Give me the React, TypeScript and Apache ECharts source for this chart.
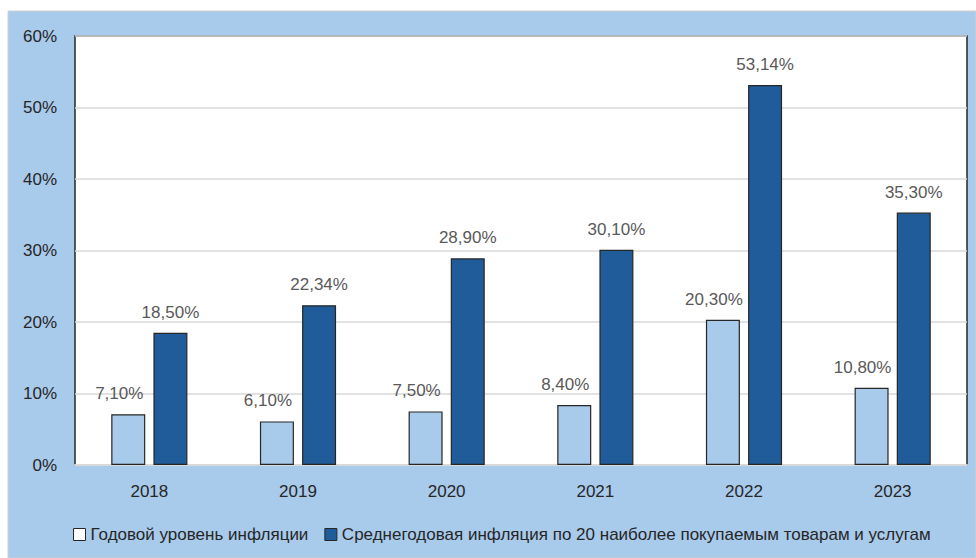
import React, { useEffect, useRef } from "react";
import * as echarts from "echarts";

const years = ["2018", "2019", "2020", "2021", "2022", "2023"];
const annualInflation = [7.1, 6.1, 7.5, 8.4, 20.3, 10.8];
const top20Inflation = [18.5, 22.34, 28.9, 30.1, 53.14, 35.3];
const seriesNames = [
  "Годовой уровень инфляции",
  "Среднегодовая инфляция по 20 наиболее покупаемым товарам и услугам",
];

const BG = "#a8caeb";
const LIGHT = "#a8caeb";
const DARK = "#1f5c99";
const fmt = (v: number) => v.toFixed(2).replace(".", ",") + "%";

export default function App() {
  const ref = useRef<HTMLDivElement>(null);
  useEffect(() => {
    if (!ref.current) return;
    const chart = echarts.init(ref.current, null, { renderer: "svg" });
    const font = "Liberation Sans";
    chart.setOption({
      animation: false,
      backgroundColor: "#ffffff",
      textStyle: { fontFamily: font },
      graphic: [
        {
          type: "rect",
          z: -10,
          silent: true,
          shape: { x: 8, y: 11, width: 968, height: 547 },
          style: { fill: BG, stroke: "#d0d0d0", lineWidth: 1 },
        },
      ],
      grid: {
        left: 75,
        right: 9,
        top: 36,
        bottom: 93,
        show: true,
        backgroundColor: "#ffffff",
        borderColor: "#262626",
        borderWidth: 1.5,
      },
      legend: {
        left: 68,
        top: 521,
        itemWidth: 12,
        itemHeight: 12,
        itemGap: 16,
        icon: "rect",
        textStyle: { fontSize: 17, color: "#262626", fontFamily: font },
        data: [
          { name: seriesNames[0], itemStyle: { color: "#ffffff", borderColor: "#262626", borderWidth: 1 } },
          { name: seriesNames[1], itemStyle: { color: DARK, borderColor: "#262626", borderWidth: 1 } },
        ],
      },
      xAxis: {
        type: "category",
        data: years,
        axisLine: { show: true, lineStyle: { color: "#d9d9d9", width: 2 } },
        axisTick: { show: false },
        axisLabel: { fontSize: 17, color: "#262626", margin: 18, fontFamily: font },
      },
      yAxis: {
        type: "value",
        min: 0,
        max: 60,
        interval: 10,
        axisLine: { show: false },
        axisTick: { show: false },
        splitLine: { lineStyle: { color: "#d9d9d9", width: 1.5 } },
        axisLabel: {
          formatter: "{value}%",
          fontSize: 17,
          color: "#262626",
          margin: 18,
          fontFamily: font,
        },
      },
      series: [
        {
          name: seriesNames[0],
          type: "bar",
          data: annualInflation,
          barWidth: 34,
          barGap: "24%",
          itemStyle: { color: LIGHT, borderColor: "#262626", borderWidth: 1.2 },
          label: {
            show: true,
            position: "top",
            distance: 12,
            offset: [-9, 0],
            fontSize: 17,
            color: "#595959",
            fontFamily: font,
            formatter: (p: any) => fmt(p.value),
          },
        },
        {
          name: seriesNames[1],
          type: "bar",
          data: top20Inflation,
          barWidth: 34,
          itemStyle: { color: DARK, borderColor: "#262626", borderWidth: 1.2 },
          label: {
            show: true,
            position: "top",
            distance: 12,
            fontSize: 17,
            color: "#595959",
            fontFamily: font,
            formatter: (p: any) => fmt(p.value),
          },
        },
      ],
    });
    return () => chart.dispose();
  }, []);
  return (
    <div
      ref={ref}
      style={{ position: "fixed", left: 0, top: 0, width: 976, height: 558 }}
    />
  );
}
